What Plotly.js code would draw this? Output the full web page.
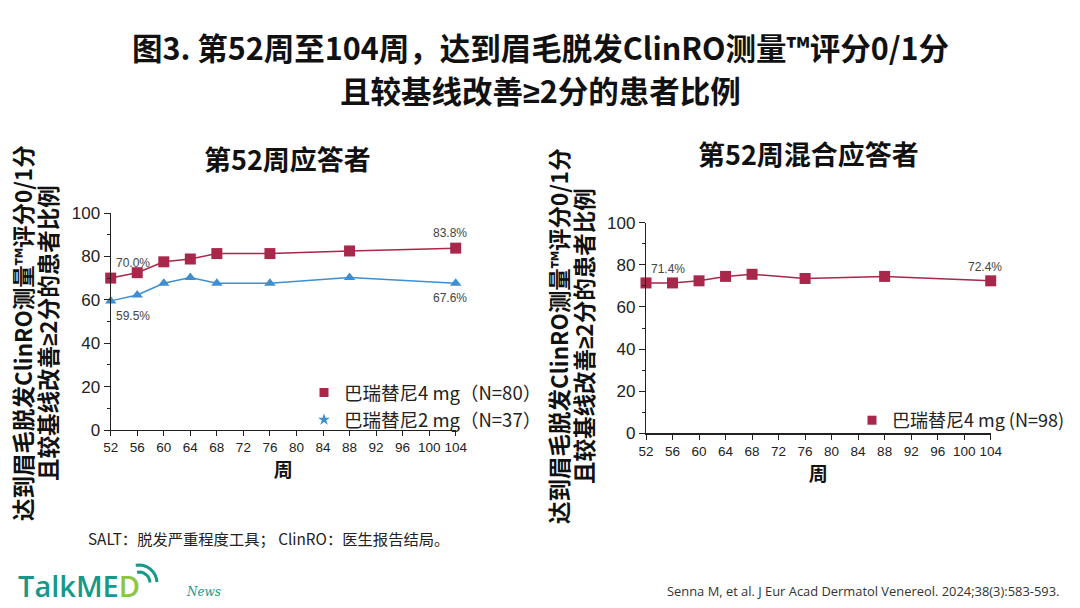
<!DOCTYPE html>
<html><head><meta charset="utf-8">
<script src="https://cdn.plot.ly/plotly-3.0.1.min.js"></script>
<style>html,body{margin:0;padding:0;background:#fff;}#chart{width:1080px;height:608px;}</style>
</head><body><div id="chart"></div>
<script>
// Data
const weeksA = [52, 56, 60, 64, 68, 76, 88, 104];
const bari4A = [70.0, 72.5, 77.5, 78.8, 81.3, 81.3, 82.5, 83.8];
const bari2A = [59.5, 62.2, 67.6, 70.3, 67.6, 67.6, 70.3, 67.6];
const weeksB = [52, 56, 60, 64, 68, 76, 88, 104];
const bari4B = [71.4, 71.4, 72.4, 74.5, 75.5, 73.5, 74.5, 72.4];
const xTicks = [52, 56, 60, 64, 68, 72, 76, 80, 84, 88, 92, 96, 100, 104];
const yTicks = [0, 20, 40, 60, 80, 100];
const nameA4 = '巴瑞替尼4 mg（N=80）';
const nameA2 = '巴瑞替尼2 mg（N=37）';
const nameB4 = '巴瑞替尼4 mg (N=98)';

const RED = '#a8274a', BLUE = '#3d8fd1';
const CJK = '"Noto Sans CJK SC", "Noto Sans", sans-serif';
const SANS = 'Liberation Sans, Arial, sans-serif';
const GE = '<span style="font-family:Liberation Sans">≥</span>';

const traces = [
  {x: weeksA, y: bari4A, name: nameA4, xaxis: 'x', yaxis: 'y', mode: 'lines+markers', showlegend: false,
   line: {color: RED, width: 1.5}, marker: {symbol: 'square', size: 11, color: RED}, cliponaxis: false},
  {x: weeksA, y: bari2A, name: nameA2, xaxis: 'x', yaxis: 'y', mode: 'lines+markers', showlegend: false,
   line: {color: BLUE, width: 1.5}, marker: {symbol: 'triangle-up', size: 10, color: BLUE}, cliponaxis: false},
  {x: weeksB, y: bari4B, name: nameB4, xaxis: 'x2', yaxis: 'y2', mode: 'lines+markers', showlegend: false,
   line: {color: RED, width: 1.5}, marker: {symbol: 'square', size: 11, color: RED}, cliponaxis: false},
  // legend entries (marker-only keys, no data)
  {x: [null], y: [null], name: nameA4, xaxis: 'x', yaxis: 'y', mode: 'markers', legend: 'legend',
   marker: {symbol: 'square', size: 9, color: RED}},
  {x: [null], y: [null], name: nameA2, xaxis: 'x', yaxis: 'y', mode: 'markers', legend: 'legend',
   marker: {symbol: 'star', size: 9, color: BLUE}},
  {x: [null], y: [null], name: nameB4, xaxis: 'x2', yaxis: 'y2', mode: 'markers', legend: 'legend2',
   marker: {symbol: 'square', size: 9, color: RED}}
];

function xax(domain) {
  return {domain: domain, range: [52, 104], tickvals: xTicks, ticktext: xTicks.map(String),
    showline: true, linecolor: '#222', linewidth: 1.2, ticks: 'outside', ticklen: 5, tickcolor: '#222',
    showgrid: false, zeroline: false, tickfont: {family: SANS, size: 13.5, color: '#222'},
    title: {text: '周', font: {family: CJK, size: 19, color: '#111', weight: 'bold'}, standoff: 4}};
}
function yax(domain, anchor) {
  return {domain: domain, anchor: anchor, range: [0, 100], tickvals: yTicks,
    showline: true, linecolor: '#222', linewidth: 1.2, ticks: 'outside', ticklen: 6, tickcolor: '#222',
    minor: {dtick: 10, ticks: 'outside', ticklen: 3, tickcolor: '#222'},
    showgrid: false, zeroline: false, tickfont: {family: SANS, size: 17, color: '#222'}};
}

const yTitle1 = '达到眉毛脱发ClinRO测量™评分0/1分';
const yTitle2 = '且较基线改善' + GE + '2分的患者比例';

const annotations = [
  {text: '图3. 第52周至104周，达到眉毛脱发ClinRO测量™评分0/1分', x: 0.5, y: 47},
  {text: '且较基线改善' + GE + '2分的患者比例', x: 0.5, y: 90},
  {text: '第52周应答者', x: 287, y: 158, size: 27},
  {text: '第52周混合应答者', x: 808, y: 153, size: 27},
].map(a => ({text: a.text, xref: 'paper', yref: 'paper', x: a.x > 1 ? a.x / 1080 : a.x, y: 1 - a.y / 608,
  showarrow: false, xanchor: 'center', yanchor: 'middle',
  font: {family: CJK, size: a.size || 30.5, color: '#111', weight: 'bold'}}));

function vtitle(text, x, y) {
  return {text: text, xref: 'paper', yref: 'paper', x: x / 1080, y: 1 - y / 608, textangle: -90, showarrow: false,
    xanchor: 'center', yanchor: 'middle', font: {family: CJK, size: 22.5, color: '#111', weight: 'bold'}};
}
annotations.push(
  vtitle(yTitle1, 22, 333), vtitle(yTitle2, 47, 333),
  vtitle(yTitle1, 558, 336), vtitle(yTitle2, 583, 336)
);

function lbl(xref, yref, x, y, xs, ys, anchor) {
  return {text: y.toFixed(1) + '%', xref: xref, yref: yref, x: x, y: y, xshift: xs, yshift: ys, xanchor: anchor,
    showarrow: false, font: {family: SANS, size: 12, color: '#444'}};
}
const nA = weeksA.length - 1, nB = weeksB.length - 1;
annotations.push(
  lbl('x', 'y', weeksA[0], bari4A[0], 3, 15, 'left'),
  lbl('x', 'y', weeksA[0], bari2A[0], 3, -15, 'left'),
  lbl('x', 'y', weeksA[nA], bari4A[nA], -6, 15, 'center'),
  lbl('x', 'y', weeksA[nA], bari2A[nA], -6, -15, 'center'),
  lbl('x2', 'y2', weeksB[0], bari4B[0], 3, 14, 'left'),
  lbl('x2', 'y2', weeksB[nB], bari4B[nB], -6, 14, 'center')
);

annotations.push(
  {text: 'SALT：脱发严重程度工具； ClinRO：医生报告结局。', xref: 'paper', yref: 'paper', x: 86 / 1080, y: 1 - 538 / 608,
   xanchor: 'left', yanchor: 'middle', showarrow: false, font: {family: CJK, size: 15.3, color: '#222'}},
  {text: 'Senna M, et al. J Eur Acad Dermatol Venereol. 2024;38(3):583-593.', xref: 'paper', yref: 'paper', x: 1061 / 1080, y: 1 - 591 / 608,
   xanchor: 'right', yanchor: 'middle', showarrow: false, font: {family: '"Open Sans", sans-serif', size: 12.9, color: '#333'}},
  {text: 'TalkME<span style="color:#8cc63f">D</span>', xref: 'paper', yref: 'paper', x: 16 / 1080, y: 1 - 585 / 608,
   xanchor: 'left', yanchor: 'middle', showarrow: false, font: {family: '"Open Sans", sans-serif', size: 29, color: '#17998a', weight: 600}},
  {text: '<i>News</i>', xref: 'paper', yref: 'paper', x: 184 / 1080, y: 1 - 592 / 608,
   xanchor: 'left', yanchor: 'middle', showarrow: false, font: {family: '"DejaVu Serif", serif', size: 12, color: '#17998a'}}
);

// wifi arcs for logo (decoration), pixel → paper
function arcPath(cx, cy, r, a0, a1) {
  const toP = (px, py) => (px / 1080).toFixed(4) + ' ' + (1 - py / 608).toFixed(4);
  let s = '';
  for (let i = 0; i <= 8; i++) {
    const a = a0 + (a1 - a0) * i / 8;
    s += (i ? ' L ' : 'M ') + toP(cx + r * Math.cos(a), cy - r * Math.sin(a));
  }
  return s;
}

const layout = {
  width: 1080, height: 608, margin: {l: 0, r: 0, t: 0, b: 0},
  paper_bgcolor: '#fff', plot_bgcolor: 'rgba(0,0,0,0)',
  xaxis: xax([110.7 / 1080, 455.7 / 1080]),
  yaxis: yax([1 - 430 / 608, 1 - 213 / 608], 'x'),
  xaxis2: Object.assign(xax([646 / 1080, 990.7 / 1080]), {anchor: 'y2'}),
  yaxis2: yax([1 - 433.3 / 608, 1 - 222.7 / 608], 'x2'),
  legend: {x: 304 / 1080, y: 1 - 374 / 608, xanchor: 'left', yanchor: 'top', bgcolor: 'rgba(0,0,0,0)',
    font: {family: CJK, size: 18.5, color: '#222'}, tracegroupgap: 0, itemwidth: 30},
  legend2: {x: 852 / 1080, y: 1 - 402 / 608, xanchor: 'left', yanchor: 'top', bgcolor: 'rgba(0,0,0,0)',
    font: {family: CJK, size: 18, color: '#222'}, itemwidth: 30},
  showlegend: true,
  annotations: annotations,
  shapes: [
    {type: 'path', xref: 'paper', yref: 'paper', path: arcPath(139, 583, 11, 1.75, 0.05), line: {color: '#17998a', width: 3}},
    {type: 'path', xref: 'paper', yref: 'paper', path: arcPath(139, 583, 18, 1.75, 0.05), line: {color: '#17998a', width: 3}}
  ]
};

Plotly.newPlot('chart', traces, layout, {displayModeBar: false, staticPlot: true});
</script>
</body></html>
